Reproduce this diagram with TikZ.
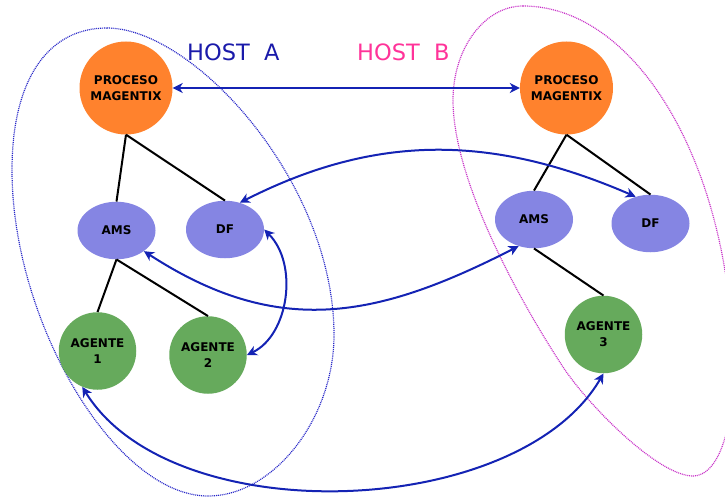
\documentclass[tikz,border=0pt]{standalone}
\usepackage{fontspec}
\setmainfont{DejaVu Sans}
\usetikzlibrary{shapes.geometric,arrows.meta}
\definecolor{porange}{HTML}{FF822D}
\definecolor{pviolet}{HTML}{8585E3}
\definecolor{pgreen}{HTML}{66AA5C}
\definecolor{parrow}{HTML}{1423B4}
\definecolor{hosta}{HTML}{1A1AAA}
\definecolor{hostb}{HTML}{FF3399}
\definecolor{ringa}{HTML}{2828C8}
\definecolor{ringb}{HTML}{C833C8}
\begin{document}
\begin{tikzpicture}[x=1pt,y=-1pt,
  >={Stealth[length=10pt,width=10pt,inset=3pt]},
  lbl/.style={font=\fontsize{12}{16}\selectfont\bfseries, align=center, inner sep=0pt, text=black},
  proc/.style={circle, fill=porange, minimum size=93pt, lbl},
  svc/.style={ellipse, fill=pviolet, minimum width=78pt, minimum height=57.5pt, lbl},
  agent/.style={circle, fill=pgreen, minimum size=77.5pt, lbl},
  tree/.style={line width=2pt, black},
  msg/.style={line width=2pt, parrow, <->},
  ring/.style={line width=1.2pt, dash pattern=on 1pt off 0.9pt},
  host/.style={font=\fontsize{22.5}{27}\selectfont, inner sep=0pt, anchor=base west}]
\useasboundingbox (0,0) rectangle (725,497);
\clip (0,0) rectangle (725,497);

% host regions
\draw[ring, ringa] (107,28) .. controls (193.3,28) and (334,181.5) .. (334,335)
  .. controls (334,418.7) and (273.5,496) .. (208,496)
  .. controls (115.9,496) and (12,323.2) .. (12,170)
  .. controls (12,80.5) and (47.2,28) .. (107,28) -- cycle;
\draw[ring, ringb] (523,6) .. controls (638.5,6) and (733,170) .. (733,370)
  .. controls (733,433.6) and (717,476) .. (693,476)
  .. controls (658,476) and (587.7,404.6) .. (563,367)
  .. controls (519,300) and (453,180) .. (453,100)
  .. controls (453,48.3) and (484.5,6) .. (523,6) -- cycle;

% nodes
\node[proc] (pA) at (126,88) {PROCESO\\MAGENTIX};
\node[proc] (pB) at (566.5,88) {PROCESO\\MAGENTIX};
\node[svc] (amsA) at (116.5,230.5) {AMS};
\node[svc] (dfA) at (225,229.5) {DF};
\node[svc] (amsB) at (534,219.5) {AMS};
\node[svc] (dfB) at (650.5,223.5) {DF};
\node[agent] (ag1) at (97.5,351) {AGENTE\\1};
\node[agent] (ag2) at (208,355) {AGENTE\\2};
\node[agent] (ag3) at (603.5,334.5) {AGENTE\\3};

% hierarchy
\draw[tree] (pA.south) -- (amsA.north);
\draw[tree] (pA.south) -- (dfA.north);
\draw[tree] (amsA.south) -- (ag1.north);
\draw[tree] (amsA.south) -- (ag2.north);
\draw[tree] (pB.south) -- (amsB.north);
\draw[tree] (pB.south) -- (dfB.north);
\draw[tree] (amsB.south) -- (ag3.north);

% messages
\draw[msg] (pA.east) -- (pB.west);
\draw[msg] (dfA.61) .. controls (377,133) and (493,135) .. (dfB.119);
\draw[msg] (amsA.-37) .. controls (279,339) and (378,318) .. (amsB.-120);
\draw[msg] (dfA.east) .. controls (299,264.5) and (288.4,335.2) .. (ag2.east);
\draw[msg] (ag1.-113) .. controls (172,532.5) and (518,520) .. (ag3.south);

% labels
\node[host, text=hosta] (hA) at (187,61) {HOST\ \ A};
\node[host, text=hostb] (hB) at (357,61) {HOST\ \ B};
\end{tikzpicture}
\end{document}
